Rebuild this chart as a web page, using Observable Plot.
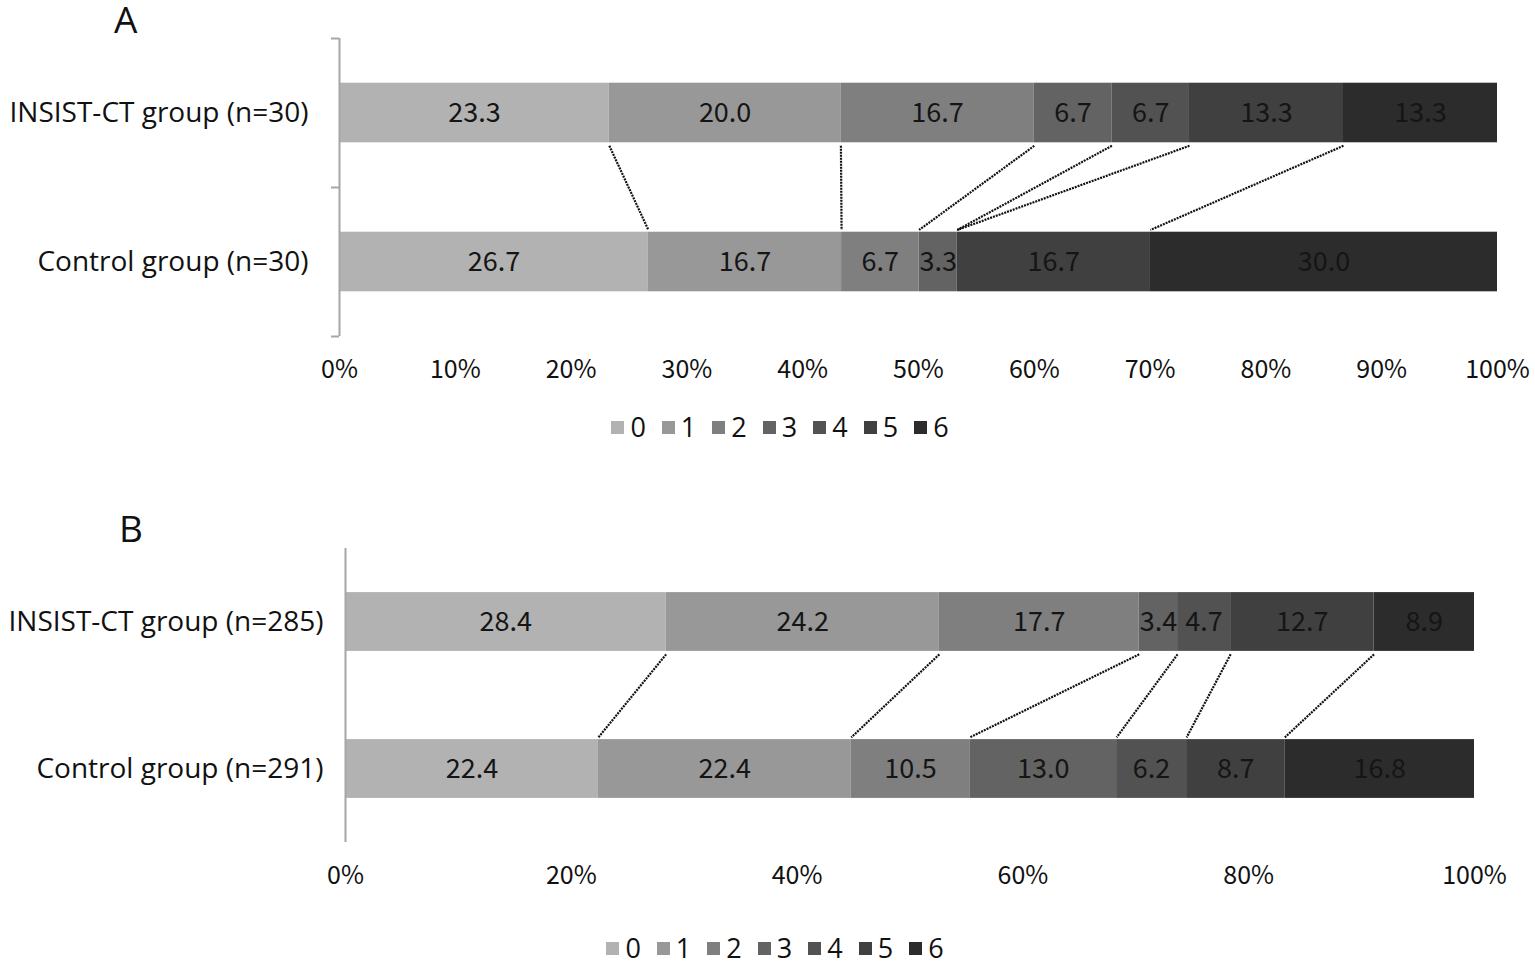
<!DOCTYPE html>
<html>
<head>
<meta charset="utf-8">
<script src="https://cdn.jsdelivr.net/npm/d3@7"></script>
<script src="https://cdn.jsdelivr.net/npm/@observablehq/plot@0.6"></script>
<style>
  html, body { margin: 0; padding: 0; background: #fff; }
  #root { position: relative; width: 1535px; height: 968px; overflow: hidden; background: #fff; }
  .panel { position: absolute; left: 0; }
  .title { position: absolute; font-family: "Open Sans", "Noto Sans", sans-serif; font-size: 37px; color: #111; line-height: 0.8; }
  .legend { position: absolute; left: 0; width: 1550px; display: flex; justify-content: center; align-items: center; gap: 16px;
            font-family: "Open Sans", "Noto Sans", sans-serif; font-size: 27px; color: #111; line-height: 1.2; }
  .legend .item { display: flex; align-items: center; gap: 6px; }
  .legend .sw { width: 13px; height: 13px; display: inline-block; }
</style>
</head>
<body>
<div id="root">
  <div class="title" style="left:114px; top:4px;">A</div>
  <div class="title" style="left:119px; top:513px;">B</div>
  <div class="panel" id="panelA" style="top:0px;"></div>
  <div class="panel" id="panelB" style="top:500px;"></div>
  <div class="legend" id="legendA" style="top:411px; left:5px;"></div>
  <div class="legend" id="legendB" style="top:932px; left:0px;"></div>
</div>
<script>
// ---- data ----
const levels = ["0", "1", "2", "3", "4", "5", "6"];
const colors = ["#b2b2b2", "#989898", "#7f7f7f", "#636363", "#525252", "#404040", "#2c2c2c"];

const groupsA = ["INSIST-CT group (n=30)", "Control group (n=30)"];
const insistA = [23.3, 20.0, 16.7, 6.7, 6.7, 13.3, 13.3];
const controlA = [26.7, 16.7, 6.7, 3.3, 0, 16.7, 30.0];
const ticksA = [0, 10, 20, 30, 40, 50, 60, 70, 80, 90, 100];

const groupsB = ["INSIST-CT group (n=285)", "Control group (n=291)"];
const insistB = [28.4, 24.2, 17.7, 3.4, 4.7, 12.7, 8.9];
const controlB = [22.4, 22.4, 10.5, 13.0, 6.2, 8.7, 16.8];
const ticksB = [0, 20, 40, 60, 80, 100];

const labelFont = "'Open Sans', 'Noto Sans', sans-serif";
const numFont = "'Noto Sans CJK SC', 'Noto Sans', sans-serif";

function stack(series) {
  const rows = [];
  const bounds = [];
  series.forEach((vals, gi) => {
    const total = d3.sum(vals);
    let c = 0;
    const b = [];
    vals.forEach((v, li) => {
      const x1 = c / total * 100;
      c += v;
      const x2 = c / total * 100;
      rows.push({g: gi, level: levels[li], value: v, x1, x2});
      b.push(x2);
    });
    bounds.push(b);
  });
  const links = [];
  for (let k = 0; k < levels.length - 1; k++) {
    links.push({x1: bounds[0][k], x2: bounds[1][k]});
  }
  return {rows, links};
}

function panel(groups, top, bottom, ticks, cfg) {
  const {rows, links} = stack([top, bottom]);
  const marks = [
    Plot.rect(rows, {x1: "x1", x2: "x2", y1: d => d.g + 0.3, y2: d => d.g + 0.7, fill: "level"}),
    Plot.text(rows.filter(d => d.value > 0), {
      x: d => (d.x1 + d.x2) / 2, y: d => d.g + 0.5, text: d => d.value.toFixed(1),
      fill: "#151515", fontSize: 27, fontFamily: numFont
    }),
    Plot.link(links, {x1: "x1", x2: "x2", y1: () => 0.72, y2: () => 1.285,
      stroke: "#111", strokeWidth: 2.2, strokeDasharray: "2,1"}),
    Plot.ruleX([0], {stroke: "#a6a6a6", strokeWidth: 2}),
    Plot.axisY([0.5, 1.5], {tickSize: 0, tickPadding: cfg.labelPad, tickFormat: d => groups[Math.floor(d)],
      fontSize: 28, fontFamily: labelFont, fill: "#111"}),
    Plot.axisX(ticks, {tickSize: 0, tickPadding: cfg.tickPad, tickFormat: d => d + "%",
      fontSize: 25, fontFamily: numFont, fill: "#111"})
  ];
  if (cfg.yTicks) {
    marks.splice(4, 0, Plot.axisY([0, 1, 2], {tickSize: 8, tickFormat: () => "", stroke: "#a6a6a6", strokeWidth: 2}));
  }
  return Plot.plot({
    width: 1535,
    height: cfg.height,
    marginTop: cfg.mt,
    marginBottom: cfg.mb,
    marginLeft: cfg.ml,
    marginRight: cfg.mr,
    x: {domain: [0, 100]},
    y: {domain: [0, 2], reverse: true},
    color: {type: "ordinal", domain: levels, range: colors},
    style: {background: "transparent", overflow: "visible", fontFamily: labelFont},
    marks
  });
}

document.getElementById("panelA").append(
  panel(groupsA, insistA, controlA, ticksA, {height: 400, mt: 38, mb: 64, ml: 339, mr: 38, labelPad: 31, tickPad: 24, yTicks: true})
);
document.getElementById("panelB").append(
  panel(groupsB, insistB, controlB, ticksB, {height: 402, mt: 48, mb: 60, ml: 345, mr: 61, labelPad: 22, tickPad: 24, yTicks: false})
);

function legend(id) {
  const el = document.getElementById(id);
  levels.forEach((l, i) => {
    const item = document.createElement("div");
    item.className = "item";
    const sw = document.createElement("span");
    sw.className = "sw";
    sw.style.background = colors[i];
    const t = document.createElement("span");
    t.textContent = l;
    item.append(sw, t);
    el.append(item);
  });
}
legend("legendA");
legend("legendB");
</script>
</body>
</html>
